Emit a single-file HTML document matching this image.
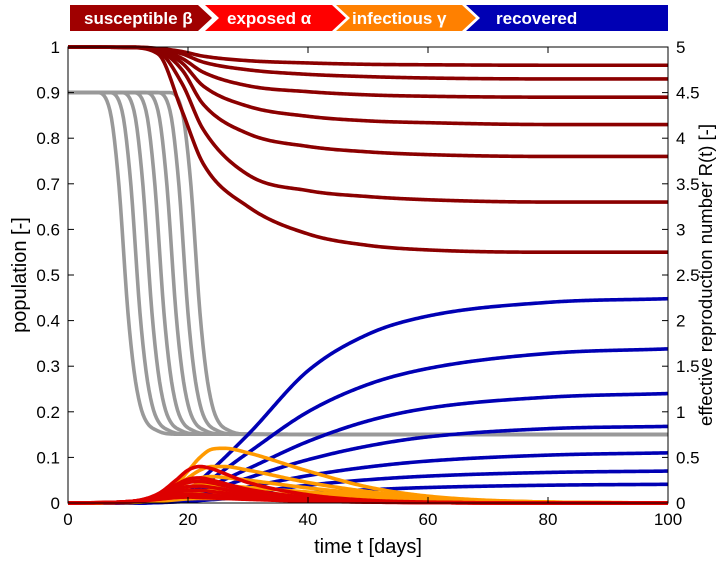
<!DOCTYPE html>
<html><head><meta charset="utf-8"><style>
body{margin:0;background:#fff;font-family:"Liberation Sans",sans-serif;}
svg text{font-family:"Liberation Sans","DejaVu Sans",sans-serif;}
</style></head><body>
<svg id="chart" width="720" height="570" viewBox="0 0 720 570" xmlns="http://www.w3.org/2000/svg">
<g id="header">
  <polygon points="70,5 198,5 212,18 198,31 70,31" fill="#a00000"/>
  <text x="84" y="24" fill="#fff" font-size="17" font-weight="bold">susceptible β</text>
  <polygon points="205,5 332,5 346,18 332,31 205,31 219,18" fill="#ff0000"/>
  <text x="227" y="24" fill="#fff" font-size="17" font-weight="bold">exposed  α</text>
  <polygon points="336,5 462,5 476,18 462,31 336,31 350,18" fill="#ff8000"/>
  <text x="352" y="24" fill="#fff" font-size="17" font-weight="bold">infectious γ</text>
  <polygon points="466,5 668,5 668,31 466,31 480,18" fill="#0000b4"/>
  <text x="496" y="24" fill="#fff" font-size="17" font-weight="bold">recovered</text>
</g>
<g id="plot"></g>
<g id="axes"></g>
</svg>
<script>
const X0=68,X1=668,Y0=503,Y1=47;
const xs=t=>X0+(X1-X0)*t/100;
const ys=v=>Y0-(Y0-Y1)*v;
const yr=v=>Y0-(Y0-Y1)*v/5;

const sTimes=[0,10,15,19,22.5,30,40,50,60,80,100];
const susceptible=[
[1,1,.997,.99,.98,.97,.965,.962,.961,.96,.96],
[1,1,.996,.985,.967,.95,.94,.935,.932,.93,.93],
[1,.999,.994,.975,.945,.915,.902,.895,.892,.89,.89],
[1,.999,.993,.965,.915,.87,.848,.838,.834,.83,.83],
[1,.999,.992,.95,.875,.81,.782,.77,.764,.76,.76],
[1,.999,.99,.92,.82,.72,.685,.672,.665,.66,.66],
[1,.999,.985,.86,.745,.65,.59,.565,.555,.55,.55]];
const recovered=[
[0,0,.001,.003,.006,.013,.022,.029,.034,.039,.041],
[0,0,.001,.004,.01,.022,.039,.051,.059,.067,.07],
[0,0,.001,.006,.016,.035,.06,.079,.092,.105,.11],
[0,0,.002,.008,.022,.055,.095,.125,.145,.163,.168],
[0,0,.002,.01,.03,.075,.135,.18,.208,.232,.24],
[0,0,.002,.012,.04,.11,.2,.26,.295,.328,.338],
[0,0,.003,.016,.055,.15,.29,.37,.41,.44,.448]];
const ieTimes=[0,10,15,18,20,22,24,26,30,40,50,60,80,100];
const infectious=[
[0,.001,.004,.007,.009,.01,.01,.01,.009,.007,.005,.003,.001,0],
[0,.001,.006,.012,.015,.017,.017,.017,.015,.011,.008,.005,.001,0],
[0,.002,.008,.018,.024,.027,.027,.026,.023,.017,.011,.006,.002,0],
[0,.002,.01,.025,.035,.04,.04,.038,.034,.024,.015,.008,.002,0],
[0,.002,.012,.03,.045,.055,.058,.056,.05,.033,.02,.01,.002,0],
[0,.002,.013,.035,.055,.072,.08,.08,.072,.045,.025,.012,.002,0],
[0,.002,.015,.04,.07,.1,.118,.12,.11,.07,.035,.015,.002,0]];
const exposed=[
[0,.002,.008,.012,.013,.012,.011,.01,.008,.004,.002,.001,0,0],
[0,.002,.01,.018,.02,.019,.017,.015,.011,.005,.002,.001,0,0],
[0,.003,.012,.024,.028,.028,.025,.022,.016,.007,.003,.001,0,0],
[0,.003,.014,.03,.036,.037,.034,.03,.021,.009,.003,.001,0,0],
[0,.003,.016,.036,.045,.047,.044,.038,.027,.011,.004,.001,0,0],
[0,.003,.017,.04,.052,.055,.05,.043,.03,.012,.004,.001,0,0],
[0,.003,.02,.05,.072,.08,.075,.065,.045,.018,.006,.002,0,0]];
const rtRelTimes=[-100,-5.2,-3,-1.6,0,1,2,3,5,8,100];
const rtShape=[4.5,4.5,4.3,3.55,2.08,1.45,1.08,0.9,0.79,0.755,0.75];
const rtDropDays=[10,12,14,16,18,20,22];
const xTicks=[0,20,40,60,80,100];
const yTicks=[0,0.1,0.2,0.3,0.4,0.5,0.6,0.7,0.8,0.9,1];
const yTickLabels=["0","0.1","0.2","0.3","0.4","0.5","0.6","0.7","0.8","0.9","1"];
const rTicks=[0,0.5,1,1.5,2,2.5,3,3.5,4,4.5,5];
const rTickLabels=["0","0.5","1","1.5","2","2.5","3","3.5","4","4.5","5"];

function monotone(xa,ya){
  const n=xa.length,d=[],m=[];
  for(let i=0;i<n-1;i++)d.push((ya[i+1]-ya[i])/(xa[i+1]-xa[i]));
  m[0]=d[0];m[n-1]=d[n-2];
  for(let i=1;i<n-1;i++)m[i]=(d[i-1]*d[i]<=0)?0:(d[i-1]+d[i])/2;
  for(let i=0;i<n-1;i++){if(d[i]===0){m[i]=0;m[i+1]=0;continue;}
    const a=m[i]/d[i],b=m[i+1]/d[i],s=a*a+b*b;
    if(s>9){const t=3/Math.sqrt(s);m[i]=t*a*d[i];m[i+1]=t*b*d[i];}}
  return x=>{let i=0;while(i<n-2&&x>xa[i+1])i++;
    const h=xa[i+1]-xa[i],t=(x-xa[i])/h,t2=t*t,t3=t2*t;
    return (2*t3-3*t2+1)*ya[i]+(t3-2*t2+t)*h*m[i]+(-2*t3+3*t2)*ya[i+1]+(t3-t2)*h*m[i+1];};
}
const NS='http://www.w3.org/2000/svg';
const plot=document.getElementById('plot');
function curve(tArr,vArr,yFn,color,name,shift){
  shift=shift||0;
  const f=monotone(tArr.map(t=>t+shift),vArr);
  let pts=[];
  for(let k=0;k<=400;k++){const t=k/4;pts.push(xs(t).toFixed(2)+','+yFn(f(t)).toFixed(2));}
  const p=document.createElementNS(NS,'polyline');
  p.setAttribute('points',pts.join(' '));
  p.setAttribute('fill','none');p.setAttribute('stroke',color);
  p.setAttribute('stroke-width','3.6');p.setAttribute('stroke-linejoin','round');
  
  
  plot.appendChild(p);
}
rtDropDays.forEach((d,i)=>curve(rtRelTimes,rtShape,yr,'#999999','rt-line-'+(i+1),d));
susceptible.forEach((s,i)=>curve(sTimes,s,ys,'#8b0000','susceptible-line-'+(i+1)));
recovered.forEach((s,i)=>curve(sTimes,s,ys,'#0000b4','recovered-line-'+(i+1)));
infectious.forEach((s,i)=>curve(ieTimes,s,ys,'#ff9a00','infectious-line-'+(i+1)));
exposed.forEach((s,i)=>curve(ieTimes,s,ys,'#dd0000','exposed-line-'+(i+1)));

const ax=document.getElementById('axes');
function el(tag,attrs,text){const e=document.createElementNS(NS,tag);for(const k in attrs)e.setAttribute(k,attrs[k]);if(text!=null)e.textContent=text;ax.appendChild(e);return e;}
const box=el('rect',{x:X0,y:Y1,width:X1-X0,height:Y0-Y1,fill:'none',stroke:'#000','stroke-width':1});


xTicks.forEach(t=>{
  el('line',{x1:xs(t),x2:xs(t),y1:Y0,y2:Y0-6,stroke:'#000'});
  el('line',{x1:xs(t),x2:xs(t),y1:Y1,y2:Y1+6,stroke:'#000'});
  const tx=el('text',{x:xs(t),y:Y0+22,'font-size':17,'text-anchor':'middle'},String(t));
  
  
});
yTicks.forEach((v,i)=>{
  el('line',{x1:X0,x2:X0+6,y1:ys(v),y2:ys(v),stroke:'#000'});
  const tx=el('text',{x:X0-8,y:ys(v)+6,'font-size':17,'text-anchor':'end'},yTickLabels[i]);
  
  
});
rTicks.forEach((v,i)=>{
  el('line',{x1:X1,x2:X1-6,y1:yr(v),y2:yr(v),stroke:'#000'});
  const tx=el('text',{x:X1+8,y:yr(v)+6,'font-size':17,'text-anchor':'start'},rTickLabels[i]);
  
  
});
const xt=el('text',{x:(X0+X1)/2,y:Y0+50,'font-size':20,'text-anchor':'middle'},'time t [days]');


const yt=el('text',{x:0,y:0,'font-size':20,'text-anchor':'middle',transform:'translate(26,'+(Y0+Y1)/2+') rotate(-90)'},'population [-]');


const y2t=el('text',{x:0,y:0,'font-size':18.5,'text-anchor':'middle',transform:'translate(712,'+(Y0+Y1)/2+') rotate(-90)'},'effective reproduction number R(t) [-]');


</script>
</body></html>
